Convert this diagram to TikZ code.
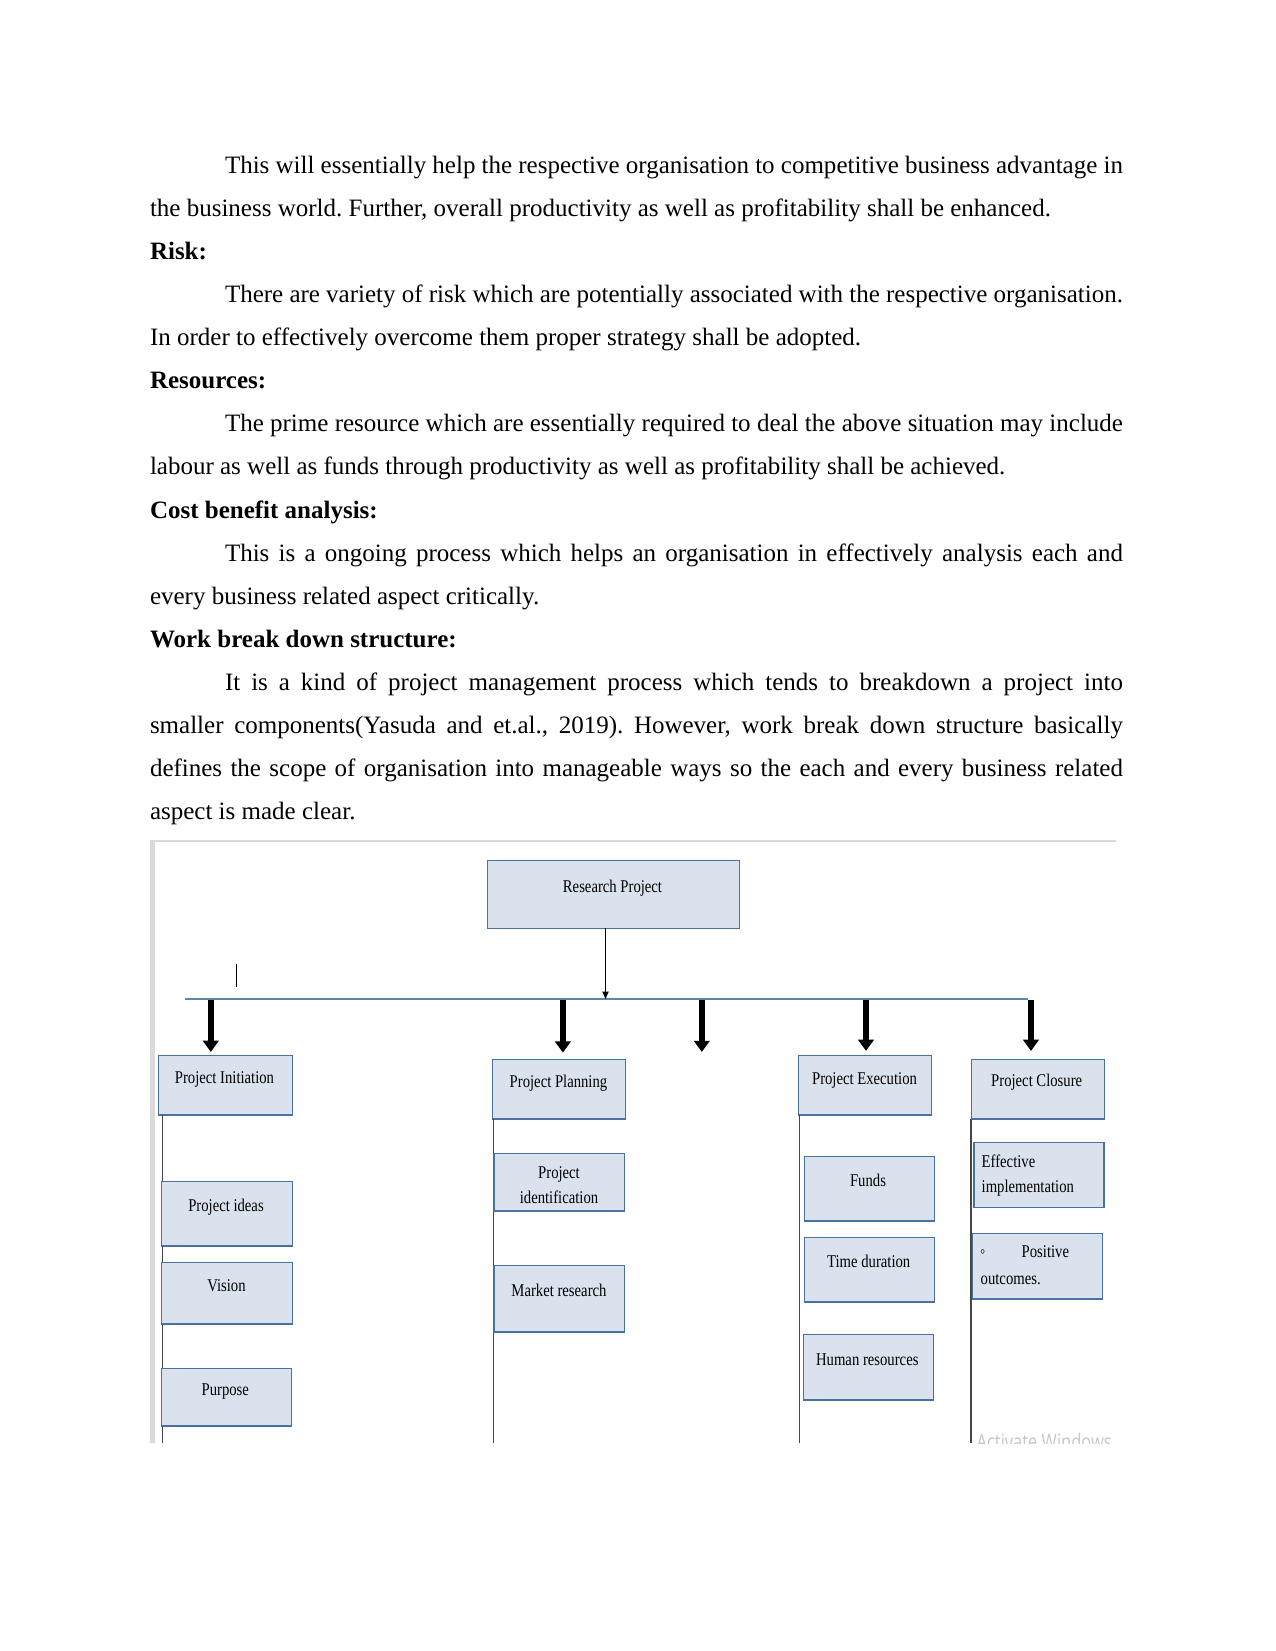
\documentclass[tikz,border=0pt]{standalone}
\usepackage{fontspec}
\setmainfont{Liberation Serif}
\newfontfamily\dfont{Liberation Serif}[FakeStretch=0.82]
\newfontfamily\wmfont{Open Sans}
\usetikzlibrary{arrows.meta}
\definecolor{boxfill}{RGB}{218,226,238}
\definecolor{boxline}{RGB}{74,114,160}
\definecolor{barline}{RGB}{95,135,165}
\definecolor{colgray}{RGB}{70,70,70}
\definecolor{framegray}{RGB}{218,218,218}
\newcommand\wbox[5]{%
  \pgfmathsetmacro\wbw{(#4-#2)*0.48}%
  \pgfmathsetmacro\wbh{(#5-#3)*0.48}%
  \node[wbs, minimum width=\wbw bp, minimum height=\wbh bp] (#1) at ({(#2+#4)/2},{(#3+#5)/2}) {};}
\newcommand\bodyline[4]{%
  \node[txt] (#1) at (#2,{173+43.125*#3}) {#4};}
\begin{document}
\begin{tikzpicture}[x=0.48bp,y=-0.48bp,
  txt/.style={anchor=base west, inner sep=0, outer sep=0, font=\fontsize{12bp}{14bp}\selectfont\frenchspacing},
  wbs/.style={rectangle, draw=boxline, fill=boxfill, line width=0.7bp, inner sep=0, outer sep=0},
  dl/.style={anchor=base, inner sep=0, outer sep=0, font=\dfont\fontsize{8.6bp}{10bp}\selectfont},
  dlw/.style={dl, anchor=base west},
  colline/.style={draw=colgray, line width=0.6bp},
  barst/.style={draw=barline, line width=0.75bp},
  bigarr/.style={draw=black, line width=2.9bp, -{Triangle[width=7.4bp,length=5.4bp]}},
  smallarr/.style={draw=black, line width=0.6bp, -{Triangle[width=3bp,length=3.6bp]}}]
\useasboundingbox (0,0) rectangle (1275,1651);
\fill[white] (0,0) rectangle (1275,1651);

% ---- body text ----
\bodyline{l0}{225}{0}{\makebox[431bp][s]{This will essentially help the respective organisation to competitive business advantage in}}
\bodyline{l1}{150}{1}{the business world. Further, overall productivity as well as profitability shall be enhanced.}
\bodyline{l2}{150}{2}{\bfseries Risk:}
\bodyline{l3}{225}{3}{\makebox[431bp][s]{There are variety of risk which are potentially associated with the respective organisation.}}
\bodyline{l4}{150}{4}{In order to effectively overcome them proper strategy shall be adopted.}
\bodyline{l5}{150}{5}{\bfseries Resources:}
\bodyline{l6}{225}{6}{\makebox[431bp][s]{The prime resource which are essentially required to deal the above situation may include}}
\bodyline{l7}{150}{7}{labour as well as funds through productivity as well as profitability shall be achieved.}
\bodyline{l8}{150}{8}{\bfseries Cost benefit analysis:}
\bodyline{l9}{225}{9}{\makebox[431bp][s]{This is a ongoing process which helps an organisation in effectively analysis each and}}
\bodyline{l10}{150}{10}{every business related aspect critically.}
\bodyline{l11}{150}{11}{\bfseries Work break down structure:}
\bodyline{l12}{225}{12}{\makebox[431bp][s]{It is a kind of project management process which tends to breakdown a project into}}
\bodyline{l13}{150}{13}{\makebox[467bp][s]{smaller components(Yasuda and et.al., 2019). However, work break down structure basically}}
\bodyline{l14}{150}{14}{\makebox[467bp][s]{defines the scope of organisation into manageable ways so the each and every business related}}
\bodyline{l15}{150}{15}{aspect is made clear.}

% ---- image frame ----
\fill[framegray] (150,841) rectangle (154.5,1443);
\draw[framegray, line width=1bp] (150,841) -- (1116,841);

\begin{scope}
\clip (150,841) rectangle (1116,1443);
\node[anchor=base west, inner sep=0, outer sep=0, text=black!22] (wm) at (976.7,1449) {\resizebox{64.8bp}{7.8bp}{\wmfont Activate Windows}};
\end{scope}

% ---- column lines ----
\coordinate (c1b) at (162.3,1443);
\coordinate (c2b) at (493.3,1443);
\coordinate (c3b) at (799.5,1443);
\coordinate (c4b) at (971,1443);

% ---- boxes ----
\wbox{rp}{487.5}{860.7}{739.3}{928.3}
\wbox{pi}{158.4}{1055.3}{292.3}{1115}
\wbox{pp}{492.5}{1059.3}{625.3}{1119}
\wbox{pe}{798.3}{1055.7}{931.7}{1115}
\wbox{pc}{971.7}{1059.3}{1104.3}{1119}

\draw[colline] (pi.south -| c1b) -- (c1b);
\draw[colline] (pp.south -| c2b) -- (c2b);
\draw[colline] (pe.south -| c3b) -- (c3b);
\draw[colline] (pc.south -| c4b) -- (c4b);

\wbox{ideas}{161.7}{1181.7}{292.3}{1246}
\wbox{vision}{161.7}{1262.7}{292.3}{1324}
\wbox{purpose}{161.3}{1368.3}{291.7}{1426}
\wbox{pid}{494}{1153.3}{624.3}{1211}
\wbox{market}{494}{1265.3}{624.3}{1332}
\wbox{funds}{804.3}{1156.7}{934.3}{1221}
\wbox{time}{804.3}{1237.3}{934.3}{1302}
\wbox{human}{803.3}{1334.3}{933.3}{1400}
\wbox{effect}{974}{1142.3}{1104}{1207.3}
\wbox{positive}{972.3}{1233.3}{1102.7}{1299}

% ---- labels ----
\node[dl] (rpt) at (612.5,892) {Research Project};
\node[dl] (pit) at (224.5,1083) {Project Initiation};
\node[dl] (ppt) at (558.5,1087) {Project Planning};
\node[dl] (pet) at (864.5,1084) {Project Execution};
\node[dl] (pct) at (1036.7,1086) {Project Closure};
\node[dl] (ideast) at (226,1211) {Project ideas};
\node[dl] (visiont) at (226.5,1291) {Vision};
\node[dl] (purposet) at (225.3,1395) {Purpose};
\node[dl] (pidt1) at (559,1178) {Project};
\node[dl] (pidt2) at (559,1203.5) {identification};
\node[dl] (markett) at (559,1296) {Market research};
\node[dl] (fundst) at (868,1186) {Funds};
\node[dl] (timet) at (868.7,1267.5) {Time duration};
\node[dl] (humant) at (867.3,1365) {Human resources};
\node[dlw] (effectt1) at (981.7,1167) {Effective};
\node[dlw] (effectt2) at (981.7,1192.5) {implementation};
\node[dl] (bullet) at (982.7,1257.5) {◦};
\node[dlw] (post1) at (1021.7,1257.5) {Positive};
\node[dlw] (post2) at (980.7,1284) {outcomes.};

% ---- bar and arrows ----
\coordinate (barL) at (185,999);
\coordinate (barR) at (1028,999);
\draw[barst] (barL) -- (barR);
\coordinate (bj) at (605.5,999);
\draw[smallarr] (rp.south -| bj) -- (bj);

\coordinate (b1) at (210.8,999.5);
\coordinate (b2) at (562.9,999.5);
\coordinate (b3) at (701.8,999.5);
\coordinate (h3) at (701.8,1052);
\coordinate (b4) at (866,999.5);
\coordinate (b5) at (1031,999.5);
\draw[bigarr, shorten >=1.6bp] (b1) -- (b1 |- pi.north);
\draw[bigarr, shorten >=3.2bp] (b2) -- (b2 |- pp.north);
\draw[bigarr] (b3) -- (h3);
\draw[bigarr, shorten >=2.3bp] (b4) -- (b4 |- pe.north);
\draw[bigarr, shorten >=4bp] (b5) -- (b5 |- pc.north);

\coordinate (cur1) at (236.8,964);
\coordinate (cur2) at (236.8,987);
\draw[black, line width=0.6bp] (cur1) -- (cur2);
\end{tikzpicture}
\end{document}
